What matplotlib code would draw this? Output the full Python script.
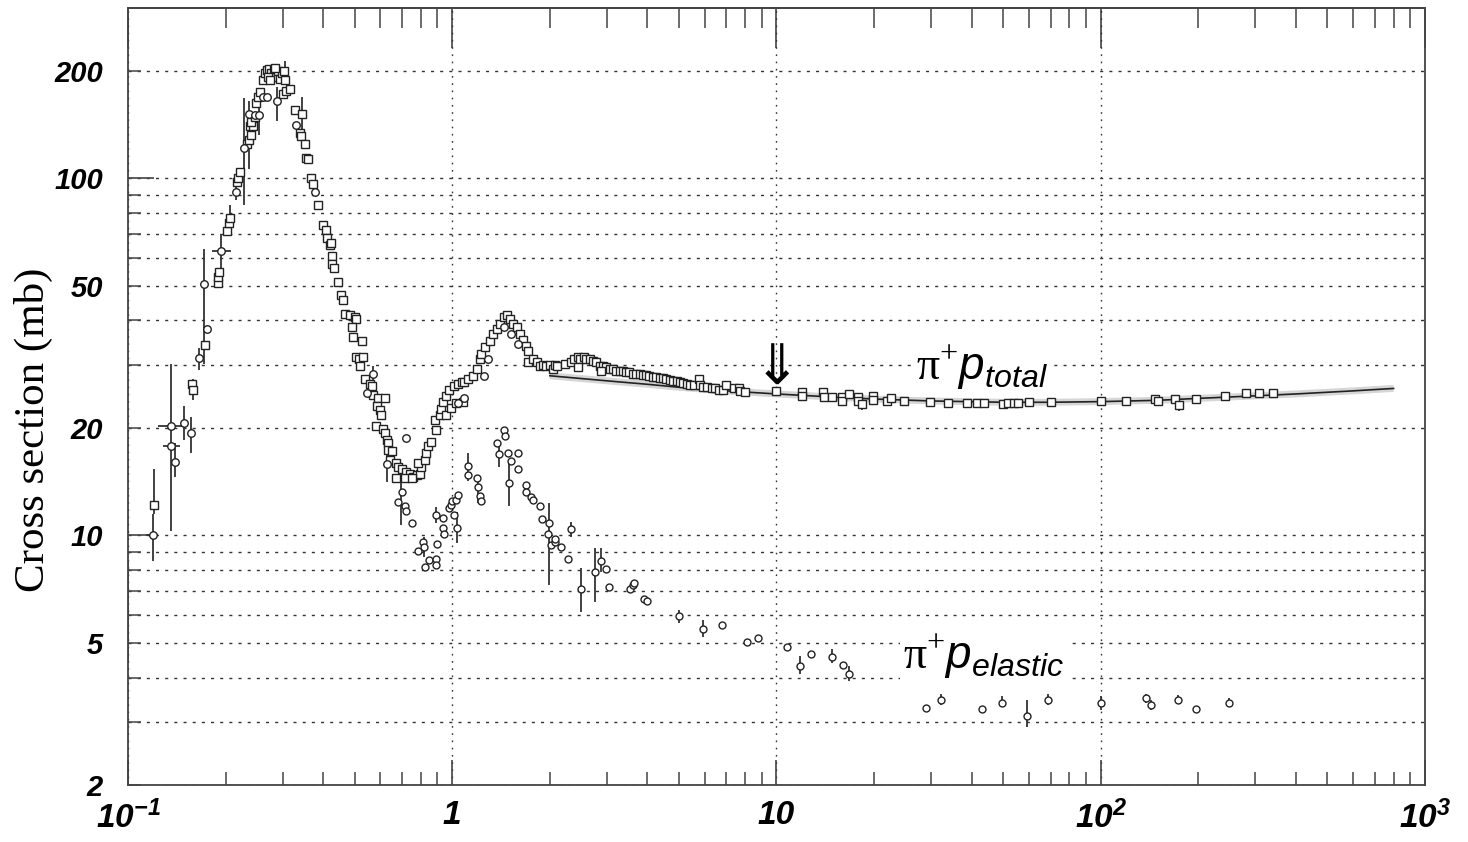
import numpy as np
import matplotlib
matplotlib.use("Agg")
import matplotlib.pyplot as plt
from matplotlib.ticker import NullFormatter

# =========================
# 1. DATA
# =========================

# pi+ p total cross section, square markers (p_lab GeV/c, mb)
tot_sq_x = [0.12, 0.158, 0.159, 0.173, 0.189, 0.19, 0.191, 0.202, 0.205, 0.206,
            0.217, 0.219, 0.221, 0.232, 0.236, 0.24, 0.238, 0.243, 0.24, 0.246,
            0.249, 0.252, 0.255, 0.261, 0.264, 0.268, 0.272, 0.277, 0.282, 0.286,
            0.29, 0.294, 0.298, 0.303, 0.305, 0.27, 0.284, 0.274, 0.301, 0.308,
            0.316, 0.327, 0.344, 0.339, 0.342, 0.352, 0.355, 0.36, 0.367, 0.372,
            0.385, 0.398, 0.407, 0.412, 0.42, 0.424, 0.425, 0.427, 0.431, 0.443,
            0.454, 0.46, 0.466, 0.483, 0.5, 0.504, 0.489, 0.495, 0.525, 0.505,
            0.517, 0.53, 0.521, 0.538, 0.557, 0.564, 0.571, 0.591, 0.62, 0.584,
            0.598, 0.605, 0.58, 0.612, 0.62, 0.627, 0.634, 0.634, 0.652, 0.642,
            0.673, 0.682, 0.698, 0.722, 0.74, 0.758, 0.776, 0.794, 0.803, 0.786,
            0.823, 0.832, 0.842, 0.86, 0.893, 0.884, 0.916, 0.926, 0.936, 0.955,
            0.975, 1.01, 1.04, 1.07, 1.09, 1.12, 1.16, 1.19, 1.22, 1.23,
            1.26, 1.31, 1.34, 1.37, 1.40, 1.44, 1.47, 1.51, 1.54, 1.58,
            1.62, 1.65, 1.69, 1.71, 0.673, 0.715, 0.75, 0.955, 0.99, 1.03,
            1.08, 1.71, 1.78, 1.82, 1.87, 1.91, 1.94, 2.0, 2.04, 2.07,
            2.11, 2.23, 2.32, 2.38, 2.44, 2.48, 2.54, 2.59, 2.66, 2.72,
            2.78, 2.85, 2.92, 2.99, 3.06, 3.13, 3.2, 3.28, 3.36, 3.44,
            3.52, 3.6, 3.69, 3.78, 3.87, 3.96, 4.05, 4.15, 4.25, 4.36,
            4.46, 4.57, 4.68, 4.8, 4.92, 5.04, 5.16, 5.28, 5.41, 5.55,
            5.76, 5.81, 5.95, 6.1, 6.32, 6.47, 6.63, 6.84, 7.0, 7.4,
            7.68, 2.44, 2.88, 7.7, 8.0, 10.0, 12.0, 12.0, 13.9, 14.0,
            14.8, 15.9, 15.9, 16.7, 17.8, 17.8, 18.4, 19.8, 19.8, 21.9,
            22.6, 24.8, 29.8, 33.9, 38.8, 41.5, 43.8, 50.0, 51.7, 54.0,
            55.6, 60.0, 70.0, 100.0, 120.0, 147.0, 150.0, 169.0, 174.0, 196.0,
            241.0, 280.0, 308.0, 340.0]
tot_sq_y = [12.2, 26.5, 25.6, 34.2, 51.0, 53.0, 54.7, 71.4, 75.0, 77.4,
            97.8, 100.0, 104.0, 124.6, 128.0, 132.5, 140.0, 140.6, 144.0, 149.0,
            163.0, 169.0, 174.0, 188.0, 197.0, 201.0, 203.0, 197.0, 201.0, 192.0,
            200.0, 190.0, 197.0, 200.0, 188.0, 192.0, 204.0, 188.0, 172.0, 176.0,
            178.0, 155.0, 151.0, 134.0, 131.0, 125.0, 114.0, 113.0, 100.5, 96.5,
            84.0, 74.0, 71.5, 67.9, 65.0, 66.0, 60.7, 57.7, 56.1, 51.4,
            47.0, 45.6, 41.6, 41.3, 40.9, 40.3, 38.4, 36.0, 35.0, 31.7,
            31.2, 31.7, 29.8, 27.5, 26.6, 26.2, 24.7, 24.2, 24.2, 23.1,
            22.4, 21.7, 20.2, 19.9, 19.3, 18.5, 18.2, 17.4, 17.2, 16.3,
            16.0, 15.5, 15.3, 15.1, 14.9, 14.6, 14.8, 14.9, 15.5, 16.0,
            16.3, 17.0, 17.8, 18.3, 19.7, 21.0, 21.7, 22.6, 23.7, 24.6,
            25.5, 26.2, 26.6, 26.9, 26.9, 27.5, 28.0, 29.3, 31.2, 32.2,
            33.7, 35.0, 36.6, 37.8, 39.0, 41.0, 41.5, 40.3, 39.0, 38.4,
            36.6, 35.3, 34.0, 30.6, 14.5, 14.5, 14.5, 21.7, 22.7, 23.5,
            23.7, 32.9, 31.2, 30.5, 29.8, 30.1, 29.8, 30.1, 29.3, 30.1,
            29.8, 30.2, 30.5, 31.2, 31.7, 31.2, 31.7, 31.2, 31.2, 30.8,
            30.5, 29.9, 29.8, 29.6, 29.3, 29.3, 28.9, 28.8, 28.8, 28.6,
            28.6, 28.4, 28.3, 28.3, 28.1, 28.1, 27.9, 27.8, 27.8, 27.6,
            27.6, 27.5, 27.3, 27.1, 27.0, 26.9, 26.7, 26.5, 26.4, 26.3,
            27.5, 26.3, 26.1, 26.1, 25.9, 25.8, 25.6, 25.6, 26.3, 25.9,
            25.9, 29.6, 28.9, 25.3, 25.2, 25.4, 25.2, 24.5, 25.2, 24.4,
            24.4, 24.4, 23.8, 24.9, 24.4, 23.8, 23.3, 24.5, 23.9, 23.8,
            24.2, 23.8, 23.7, 23.5, 23.5, 23.5, 23.5, 23.3, 23.5, 23.5,
            23.5, 23.7, 23.7, 23.8, 23.8, 24.1, 23.8, 24.1, 23.2, 24.1,
            24.6, 25.0, 25.0, 25.0]

# pi+ p total cross section, circle markers
tot_ci_x = [0.119, 0.136, 0.136, 0.14, 0.149, 0.156, 0.166, 0.175, 0.171, 0.194,
            0.216, 0.228, 0.236, 0.246, 0.253, 0.261, 0.269, 0.288, 0.33, 0.377,
            0.545, 0.571, 0.627, 0.72, 1.04, 1.09, 1.25, 1.29, 1.44, 1.52, 1.6]
tot_ci_y = [10.0, 20.3, 17.8, 16.1, 20.7, 19.3, 31.3, 37.8, 50.5, 62.6,
            91.3, 122.0, 151.5, 150.7, 150.7, 169.0, 169.0, 165.0, 141.0, 91.5,
            25.1, 28.4, 15.9, 18.8, 23.5, 24.2, 28.0, 31.2, 38.4, 36.6, 34.3]

# pi+ p elastic cross section, circle markers
el_x = [0.682, 0.698, 0.715, 0.722, 0.75, 0.81, 0.816, 0.786, 0.823, 0.85,
        0.888, 0.888, 0.9, 0.893, 0.936, 0.94, 0.936, 0.975, 0.99, 1.0,
        1.03, 1.04, 1.01, 1.035, 1.12, 1.12, 1.19, 1.2, 1.22, 1.23,
        1.37, 1.39, 1.44, 1.45, 1.49, 1.52, 1.59, 1.6, 1.5, 1.69,
        1.69, 1.75, 1.78, 1.87, 1.89, 1.99, 1.98, 2.02, 2.07, 2.08,
        2.16, 2.32, 2.28, 2.49, 2.75, 2.87, 2.97, 3.04, 3.54, 3.6,
        3.63, 3.89, 4.0, 5.0, 5.95, 6.8, 8.1, 8.77, 10.8, 11.8,
        12.8, 14.8, 16.0, 16.7, 28.9, 32.1, 43.0, 49.6, 59.4, 68.6,
        100.0, 138.0, 143.0, 173.0, 196.0, 248.0]
el_y = [12.4, 13.2, 12.1, 11.7, 10.8, 9.58, 9.28, 9.05, 8.17, 8.52,
        8.58, 8.29, 9.48, 11.4, 10.5, 10.1, 11.2, 11.9, 12.2, 12.5,
        12.6, 13.0, 11.4, 10.5, 15.6, 14.8, 14.5, 13.7, 12.9, 12.5,
        18.1, 16.9, 19.7, 19.0, 17.0, 16.2, 17.0, 15.3, 14.0, 13.8,
        13.2, 12.8, 12.6, 12.1, 11.1, 10.8, 10.1, 9.4, 9.6, 9.75,
        9.3, 10.4, 8.6, 7.07, 7.9, 8.5, 8.05, 7.17, 7.1, 7.27,
        7.35, 6.65, 6.55, 5.96, 5.48, 5.63, 5.03, 5.16, 4.88, 4.32,
        4.65, 4.58, 4.33, 4.1, 3.28, 3.47, 3.27, 3.4, 3.13, 3.47,
        3.4, 3.5, 3.35, 3.47, 3.27, 3.4]

# vertical error bars: x, low, high
err_x = [0.1, 0.119, 0.12, 0.136, 0.14, 0.149, 0.156, 0.159, 0.166, 0.171,
         0.194, 0.206, 0.216, 0.228, 0.236, 0.253, 0.305, 0.288, 0.344, 0.571,
         0.627, 0.697, 18.4, 174.0, 0.816, 0.893, 1.035, 1.12, 1.2, 1.39,
         1.5, 1.99, 2.32, 2.49, 2.75, 2.87, 5.0, 5.95, 11.8, 14.8,
         16.7, 32.1, 49.6, 59.4, 68.6, 100.0, 138.0, 143.0, 173.0, 248.0]
err_lo = [4.45, 8.5, 11.5, 10.3, 14.6, 18.5, 17.0, 24.0, 29.0, 30.3,
          56.0, 73.0, 87.0, 84.0, 106.0, 132.0, 188.0, 145.0, 134.0, 27.2,
          14.1, 10.7, 22.5, 22.3, 8.7, 10.8, 9.5, 14.2, 12.3, 15.5,
          12.1, 7.27, 9.9, 6.1, 6.5, 7.9, 5.7, 5.2, 4.1, 4.4,
          3.9, 3.35, 3.3, 2.9, 3.35, 3.25, 3.4, 3.25, 3.37, 3.3]
err_hi = [8.5, 11.5, 15.3, 30.3, 18.1, 23.0, 21.5, 27.5, 33.5, 63.3,
          70.0, 84.0, 97.0, 168.0, 165.0, 160.0, 213.0, 180.0, 169.0, 29.9,
          18.1, 14.0, 24.0, 24.0, 9.9, 12.0, 11.6, 17.0, 14.8, 18.1,
          16.3, 12.3, 10.9, 8.1, 9.2, 9.2, 6.2, 5.8, 4.6, 4.8,
          4.3, 3.6, 3.55, 3.45, 3.6, 3.55, 3.6, 3.45, 3.57, 3.5]

# horizontal error bars: y, low x, high x
herr_y = [10.0, 20.3, 17.8, 62.6, 122.0, 151.5]
herr_lo = [0.114, 0.124, 0.128, 0.181, 0.224, 0.232]
herr_hi = [0.124, 0.148, 0.145, 0.208, 0.233, 0.241]

# fit to the high energy total cross section
fit_x = [2.0, 2.5, 3.0, 4.0, 5.0, 7.0, 10.0, 15.0, 20.0, 30.0,
         50.0, 70.0, 100.0, 150.0, 200.0, 300.0, 400.0, 600.0, 800.0]
fit_y = [28.0, 27.5, 27.1, 26.5, 26.0, 25.4, 24.9, 24.4, 24.1, 23.8,
         23.6, 23.6, 23.7, 23.9, 24.2, 24.6, 24.9, 25.4, 25.8]

# arrow marking the fit start
arrow_x = 10.0
arrow_y = 26.4

x_ticks = [0.1, 1, 10, 100, 1000]
x_labels = [r'$\mathbf{10^{-1}}$', '1', '10', r'$\mathbf{10^{2}}$', r'$\mathbf{10^{3}}$']
y_major = [10, 100]
y_minor = [2, 3, 4, 5, 6, 7, 8, 9, 20, 30, 40, 50, 60, 70, 80, 90, 200]
y_minor_labels = ['2', '', '', '5', '', '', '', '', '20', '', '', '50', '', '', '', '', '200']

# ==========
# 2. STYLE
# ==========
plt.rcParams['font.family'] = ['Liberation Sans', 'DejaVu Sans']
plt.rcParams['mathtext.fontset'] = 'custom'
plt.rcParams['mathtext.bf'] = 'Liberation Sans:bold:italic'
plt.rcParams['mathtext.it'] = 'Liberation Sans:italic'
plt.rcParams['mathtext.rm'] = 'Liberation Serif'

ink = '#222222'
axis_col = '#444444'

fig = plt.figure(figsize=(14.68, 8.42), dpi=100)
ax = fig.add_axes([0.0872, 0.0677, 0.8835, 0.9228])
ax.set_xscale('log')
ax.set_yscale('log')
ax.set_xlim(0.1, 1000)
ax.set_ylim(2, 300)

# =========
# 3. DRAW
# =========
ax.plot(fit_x, fit_y, color='#d6d6d6', lw=5, solid_capstyle='butt', zorder=2)
ax.plot(fit_x, fit_y, color=ink, lw=1.2, zorder=2.1)

ax.vlines(err_x, err_lo, err_hi, color='#333333', lw=1.3, zorder=2.5)
ax.hlines(herr_y, herr_lo, herr_hi, color='#333333', lw=1.3, zorder=2.5)

ax.plot(tot_sq_x, tot_sq_y, ls='none', marker='s', ms=5.6, mfc='white',
        mec=ink, mew=1.0, zorder=3)
ax.plot(tot_ci_x, tot_ci_y, ls='none', marker='o', ms=5.4, mfc='white',
        mec=ink, mew=1.0, zorder=3)
ax.plot(el_x, el_y, ls='none', marker='o', ms=5.0, mfc='white',
        mec=ink, mew=1.0, zorder=3)

# labels on the curves
ax.text(26.9, 27.2, r'$\mathrm{\pi}^{+}p_{total}$', fontsize=33, color='black',
        ha='left', va='baseline', zorder=4,
        bbox=dict(facecolor='white', edgecolor='none', pad=2))
ax.text(24.5, 4.23, r'$\mathrm{\pi}^{+}p_{elastic}$', fontsize=33, color='black',
        ha='left', va='baseline', zorder=4,
        bbox=dict(facecolor='white', edgecolor='none', pad=2))
ax.text(arrow_x, arrow_y, '\u21d3', fontsize=40, family='DejaVu Sans',
        ha='center', va='baseline', color='black', zorder=4)

# ===============
# 4. AXES / GRID
# ===============
ax.set_xticks(x_ticks)
ax.set_xticklabels(x_labels)
ax.xaxis.set_minor_formatter(NullFormatter())
ax.set_yticks(y_major)
ax.set_yticklabels(['10', '100'])
ax.set_yticks(y_minor, minor=True)
ax.set_yticklabels(y_minor_labels, minor=True)

for lab in ax.get_xticklabels() + ax.get_yticklabels() + ax.get_yticklabels(minor=True):
    lab.set_fontweight('bold')
    lab.set_fontstyle('italic')

ax.tick_params(axis='x', which='major', direction='in', length=18, width=1.2,
               color=axis_col, labelsize=24, pad=11, top=False)
ax.tick_params(axis='x', which='minor', direction='in', length=9.5, width=1.1,
               color=axis_col, top=False)
ax.tick_params(axis='y', which='major', direction='in', length=19, width=1.2,
               color=axis_col, labelsize=21, pad=18, right=False)
ax.tick_params(axis='y', which='minor', direction='in', length=9.5, width=1.1,
               color=axis_col, labelsize=21, pad=18, right=False)

top = ax.secondary_xaxis('top')
top.xaxis.set_major_formatter(NullFormatter())
top.xaxis.set_minor_formatter(NullFormatter())
top.tick_params(which='major', direction='in', length=29, width=1.2, color=axis_col)
top.tick_params(which='minor', direction='in', length=14.5, width=1.1, color=axis_col)
top.spines['top'].set_color(axis_col)
top.spines['top'].set_linewidth(1.3)

for sp in ax.spines.values():
    sp.set_color(axis_col)
    sp.set_linewidth(1.3)

ax.grid(True, which='both', axis='y', color='#333333', lw=1.0,
        linestyle=(0, (2.2, 4.4)), zorder=0.5)
ax.grid(True, which='major', axis='x', color='#333333', lw=1.0,
        linestyle=(0, (1.2, 4)), zorder=0.5)
ax.set_axisbelow(True)

ax.set_ylabel('Cross section (mb)', fontsize=31, family='Liberation Serif')
ax.yaxis.set_label_coords(-0.058, 0.457)

fig.savefig('out.png', dpi=100)
